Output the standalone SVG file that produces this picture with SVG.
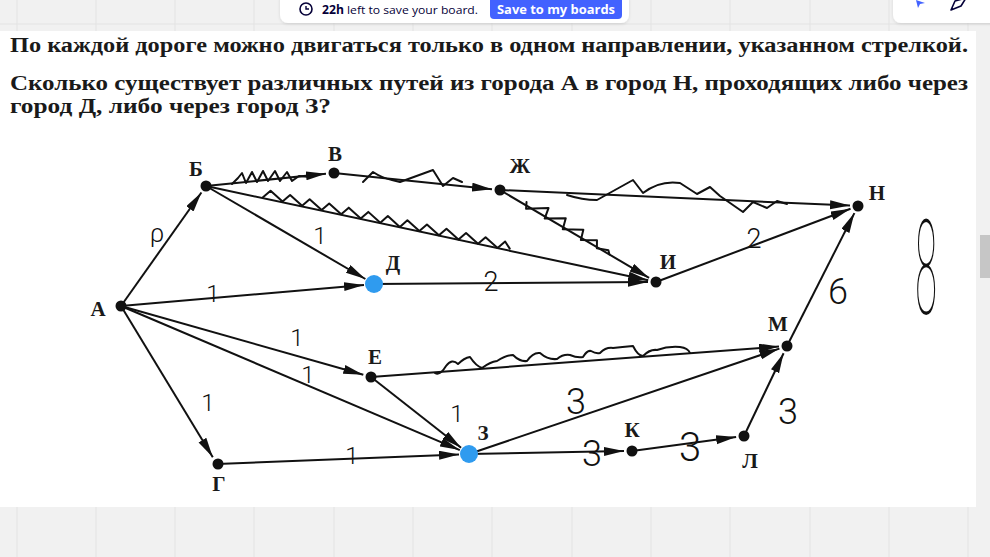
<svg xmlns="http://www.w3.org/2000/svg" width="990" height="557" viewBox="0 0 990 557">
<defs>
<marker id="ah" markerUnits="userSpaceOnUse" markerWidth="22" markerHeight="10" refX="20" refY="4.5" orient="auto">
<path d="M0,0 L20,4.5 L0,9 Z" fill="#111"/>
</marker>
<filter id="sh" x="-10%" y="-50%" width="120%" height="200%">
<feDropShadow dx="0" dy="1" stdDeviation="1.5" flood-color="#000" flood-opacity="0.12"/>
</filter>
</defs>
<style>
.grid{stroke:#e3e3e3;stroke-width:1}
.q{font-family:"Liberation Serif","DejaVu Serif",serif;font-weight:bold;font-size:20px;fill:#1a1a1a}
.lbl{font-family:"Liberation Serif","DejaVu Serif",serif;font-weight:bold;font-size:21px;fill:#1a1a1a;text-anchor:middle}
.e{stroke:#111;stroke-width:2;fill:none;marker-end:url(#ah)}
.sq{stroke:#111;stroke-width:2;fill:none;stroke-linejoin:round;stroke-linecap:round}
.dot{fill:#111}
.blue{fill:#2f9bef}
.hw{font-family:Roboto,"DejaVu Sans",sans-serif;font-weight:300;font-size:24px;fill:#111;text-anchor:middle}
.ui{font-family:"Open Sans","Noto Sans",sans-serif;font-size:11.5px}
</style>
<rect x="0" y="0" width="990" height="557" fill="#f1f1f1"/>
<g id="gridlines">
<line class="grid" x1="0" y1="24" x2="990" y2="24"/>
<line class="grid" x1="17" y1="0" x2="17" y2="557"/>
<line class="grid" x1="96" y1="0" x2="96" y2="557"/>
<line class="grid" x1="175" y1="0" x2="175" y2="557"/>
<line class="grid" x1="254" y1="0" x2="254" y2="557"/>
<line class="grid" x1="334" y1="0" x2="334" y2="557"/>
<line class="grid" x1="413" y1="0" x2="413" y2="557"/>
<line class="grid" x1="492" y1="0" x2="492" y2="557"/>
<line class="grid" x1="572" y1="0" x2="572" y2="557"/>
<line class="grid" x1="651" y1="0" x2="651" y2="557"/>
<line class="grid" x1="730" y1="0" x2="730" y2="557"/>
<line class="grid" x1="810" y1="0" x2="810" y2="557"/>
<line class="grid" x1="889" y1="0" x2="889" y2="557"/>
<line class="grid" x1="968" y1="0" x2="968" y2="557"/>
</g>
<rect id="sheet" x="0" y="31" width="976" height="476" fill="#ffffff"/>
<rect id="scrollthumb" x="980" y="235" width="10" height="43" fill="#c6c6c6"/>

<g id="topbar">
<rect x="280" y="-10" width="349" height="33" rx="8" fill="#ffffff" filter="url(#sh)"/>
<circle cx="306" cy="9" r="6" fill="none" stroke="#050038" stroke-width="1.6"/>
<path d="M306,6 V9 H309" fill="none" stroke="#050038" stroke-width="1.4"/>
<text class="ui" x="322" y="14" fill="#050038" textLength="156" lengthAdjust="spacingAndGlyphs"><tspan font-weight="bold">22h</tspan> left to save your board.</text>
<rect x="490" y="-10" width="132" height="29" rx="4" fill="#4262ff"/>
<text class="ui" x="556" y="14" fill="#ffffff" font-weight="bold" text-anchor="middle" textLength="118" lengthAdjust="spacingAndGlyphs">Save to my boards</text>
</g>
<g id="toolbar">
<rect x="893" y="-10" width="110" height="33" rx="8" fill="#ffffff" filter="url(#sh)"/>
<path d="M916,0 L918,8 L920,4 L925,3 Z" fill="#4262ff"/>
<path d="M951,10 L955,1 L966,-2 L961,6 Z" fill="none" stroke="#050038" stroke-width="1.6" stroke-linejoin="round"/>
</g>

<g id="question">
<text class="q" x="10" y="52" textLength="958" lengthAdjust="spacingAndGlyphs">По каждой дороге можно двигаться только в одном направлении, указанном стрелкой.</text>
<text class="q" x="10" y="90" textLength="958" lengthAdjust="spacingAndGlyphs">Сколько существует различных путей из города А в город Н, проходящих либо через</text>
<text class="q" x="10" y="113" textLength="321" lengthAdjust="spacingAndGlyphs">город Д, либо через город З?</text>
</g>

<g id="connectors">
<line class="e" x1="121" y1="306" x2="201.4" y2="192.5"/>
<line class="e" x1="121" y1="306" x2="364" y2="284.9"/>
<line class="e" x1="121" y1="306" x2="363.3" y2="374.8"/>
<line class="e" x1="121" y1="306" x2="459.8" y2="450.1"/>
<line class="e" x1="121" y1="306" x2="212.8" y2="457.2"/>
<line class="e" x1="206" y1="186" x2="326" y2="173.8"/>
<line class="e" x1="206" y1="186" x2="365.4" y2="279"/>
<line class="e" x1="206" y1="186" x2="648.2" y2="280.3"/>
<line class="e" x1="334" y1="173" x2="492" y2="189.2"/>
<line class="e" x1="500" y1="190" x2="850" y2="205.6"/>
<line class="e" x1="500" y1="190" x2="649.1" y2="277.9"/>
<line class="e" x1="374" y1="284" x2="648" y2="282.1"/>
<line class="e" x1="656" y1="282" x2="850.5" y2="208.8"/>
<line class="e" x1="371" y1="377" x2="779" y2="346.6"/>
<line class="e" x1="371" y1="377" x2="461.1" y2="447.8"/>
<line class="e" x1="469" y1="454" x2="779.4" y2="348.6"/>
<line class="e" x1="469" y1="454" x2="624" y2="451.1"/>
<line class="e" x1="632" y1="451" x2="736.1" y2="437.1"/>
<line class="e" x1="744" y1="436" x2="783.6" y2="353.2"/>
<line class="e" x1="787" y1="346" x2="854.4" y2="213.1"/>
<line class="e" x1="217" y1="464" x2="459" y2="454.4"/>
</g>

<g id="squiggles">
<polyline class="sq" points="232,184 238,178 242,173 246,183 252,172 257,182 263,171 268,181 275,171 280,181 287,172 292,181 299,176 310,177"/>
<path class="sq" d="M363,182 L373,172 Q382,178 392,180 L400,182 L433,170 L443,186 L453,178 L462,182"/>
<polyline class="sq" transform="translate(263,197.3) rotate(12.2)" points="0,0 6,-8 20,0 26,-8 40,0 46,-8 60,0 66,-8 80,0 86,-8 100,0 106,-8 120,0 126,-8 140,0 146,-8 160,0 166,-8 180,0 186,-8 200,0 206,-8 220,0 226,-8 240,0 246,-8 252,-2"/>
<polyline class="sq" transform="translate(525,204.7) rotate(30.5)" points="0,-3 3,3 22,-9 24,2 42,-9 45,2 63,-8 66,2 80,-6 84,1 95,-3 98,0"/>
<path class="sq" d="M567,195 Q582,200 597,200 L633,180 L643,193 Q660,180 680,183 L697,194 L710,187 L720,196 L743,212 L753,202 L767,208 L777,201 L787,204"/>
<path class="sq" d="M435,373 Q440,376 446,366 Q452,358 458,364 Q464,358 470,357 Q476,366 482,368 Q490,362 497,361 Q506,355 513,355 Q520,362 527,361 Q533,352 540,353 Q548,360 557,359 Q563,354 570,355 Q577,358 583,357 Q587,350 591,351 Q596,354 600,353 Q606,347 613,348 Q622,347 633,346 Q638,356 643,356 Q650,349 657,350 Q668,346 680,347 Q688,348 690,353"/>
</g>

<g id="node-A"><circle class="dot" cx="121" cy="306" r="5.5"/><text class="lbl" x="98" y="316">А</text></g>
<g id="node-B"><circle class="dot" cx="206" cy="186" r="5.5"/><text class="lbl" x="196" y="176">Б</text></g>
<g id="node-V"><circle class="dot" cx="334" cy="173" r="5.5"/><text class="lbl" x="335" y="161">В</text></g>
<g id="node-Zh"><circle class="dot" cx="500" cy="190" r="5.5"/><text class="lbl" x="520" y="173">Ж</text></g>
<g id="node-N"><circle class="dot" cx="858" cy="206" r="5.5"/><text class="lbl" x="877" y="200">Н</text></g>
<g id="node-D"><circle class="blue" cx="374" cy="284" r="9"/><text class="lbl" x="393" y="270">Д</text></g>
<g id="node-I"><circle class="dot" cx="656" cy="282" r="5.5"/><text class="lbl" x="668" y="269">И</text></g>
<g id="node-E"><circle class="dot" cx="371" cy="377" r="5.5"/><text class="lbl" x="375" y="364">Е</text></g>
<g id="node-M"><circle class="dot" cx="787" cy="346" r="5.5"/><text class="lbl" x="778" y="331">М</text></g>
<g id="node-Z"><circle class="blue" cx="469" cy="454" r="9"/><text class="lbl" x="483" y="440">З</text></g>
<g id="node-K"><circle class="dot" cx="632" cy="451" r="5.5"/><text class="lbl" x="632" y="437">К</text></g>
<g id="node-L"><circle class="dot" cx="744" cy="436" r="5.5"/><text class="lbl" x="750" y="468">Л</text></g>
<g id="node-G"><circle class="dot" cx="218" cy="464" r="5.5"/><text class="lbl" x="219" y="491">Г</text></g>

<g id="handwriting">
<text class="hw" x="157" y="242" style="font-size:26px">ρ</text>
<text class="hw" x="320" y="244">1</text>
<text class="hw" x="213" y="302">1</text>
<text class="hw" x="491" y="291" style="font-size:27px">2</text>
<text class="hw" x="754" y="248" style="font-size:27px">2</text>
<text class="hw" x="838" y="304" style="font-size:36px">6</text>
<text class="hw" x="297" y="346">1</text>
<text class="hw" x="308" y="383">1</text>
<text class="hw" x="208" y="411">1</text>
<text class="hw" x="457" y="422">1</text>
<text class="hw" x="352" y="464">1</text>
<text class="hw" x="576" y="414" style="font-size:36px">3</text>
<text class="hw" x="592" y="466" style="font-size:36px">3</text>
<text class="hw" x="690" y="461" style="font-size:40px">3</text>
<text class="hw" x="788" y="424" style="font-size:36px">3</text>
<text class="hw" transform="translate(926,314) scale(0.3,1)" style="font-size:132px;font-weight:100">8</text>
</g>
</svg>
